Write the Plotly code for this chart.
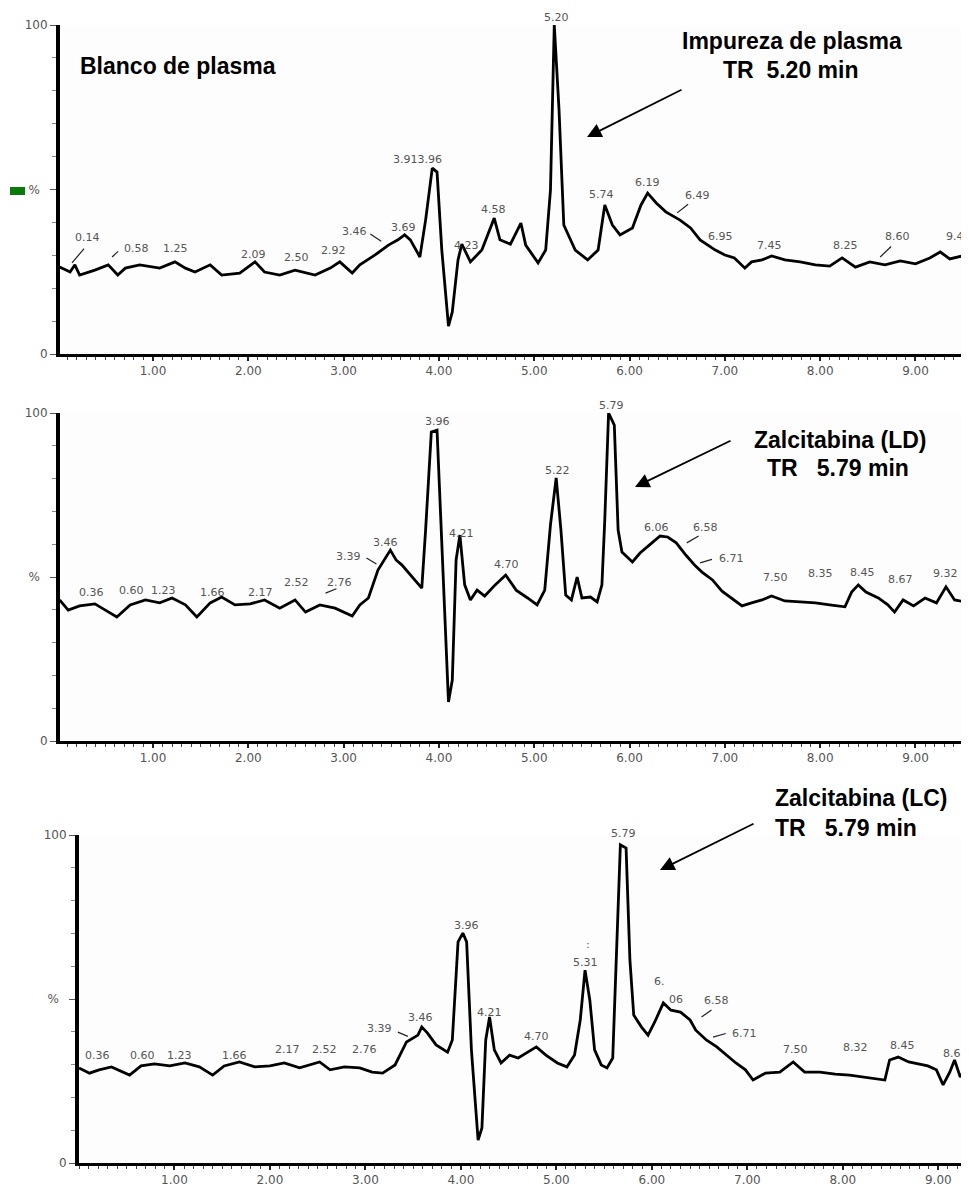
import plotly.graph_objects as go

# ---------------- data (time in min, relative intensity in %) ----------------
t_blank = [0.02, 0.13, 0.18, 0.23, 0.39, 0.53, 0.63, 0.71, 0.86, 1.07, 1.23, 1.34, 1.44, 1.60, 1.72,
           1.91, 2.07, 2.17, 2.33, 2.49, 2.70, 2.86, 2.96, 3.09, 3.17, 3.33, 3.47, 3.57, 3.64, 3.70,
           3.80, 3.86, 3.93, 3.98, 4.03, 4.10, 4.14, 4.20, 4.24, 4.33, 4.45, 4.58, 4.64, 4.75, 4.86,
           4.91, 5.04, 5.12, 5.17, 5.21, 5.26, 5.31, 5.43, 5.56, 5.67, 5.74, 5.82, 5.90, 6.03, 6.12,
           6.19, 6.28, 6.38, 6.53, 6.64, 6.74, 6.90, 7.00, 7.10, 7.21, 7.28, 7.39, 7.49, 7.63, 7.79,
           7.95, 8.10, 8.23, 8.37, 8.52, 8.68, 8.84, 9.00, 9.15, 9.26, 9.36, 9.53]
i_blank = [26.4, 24.9, 27.1, 24.0, 25.5, 27.1, 24.0, 26.1, 27.1, 26.1, 28.0, 26.1, 24.9, 27.1, 24.0,
           24.6, 28.0, 24.9, 24.0, 25.5, 24.0, 26.1, 28.0, 24.6, 27.1, 30.1, 33.1, 34.7, 36.2, 34.7,
           29.5, 40.7, 56.5, 55.3, 31.6, 8.5, 12.8, 28.6, 33.4, 28.0, 31.6, 41.3, 34.7, 33.4, 39.8,
           33.1, 27.7, 31.6, 49.8, 100.0, 74.2, 39.2, 31.6, 28.6, 31.6, 45.3, 39.2, 36.2, 38.3, 45.3,
           48.9, 45.9, 43.2, 40.7, 38.3, 34.7, 31.6, 30.1, 29.2, 26.1, 28.0, 28.6, 29.8, 28.6, 28.0,
           27.1, 26.7, 29.2, 26.4, 28.0, 27.1, 28.3, 27.4, 29.2, 31.0, 28.9, 30.1]

t_ld = [0.02, 0.11, 0.23, 0.39, 0.50, 0.62, 0.76, 0.92, 1.07, 1.20, 1.34, 1.46, 1.60, 1.72, 1.86,
        2.02, 2.17, 2.33, 2.49, 2.60, 2.75, 2.91, 3.09, 3.17, 3.26, 3.36, 3.49, 3.55, 3.61, 3.70,
        3.82, 3.86, 3.92, 3.98, 4.03, 4.10, 4.14, 4.18, 4.22, 4.27, 4.33, 4.40, 4.48, 4.59, 4.70,
        4.81, 4.93, 5.03, 5.11, 5.17, 5.23, 5.28, 5.33, 5.39, 5.45, 5.50, 5.59, 5.66, 5.71, 5.74,
        5.78, 5.84, 5.88, 5.92, 6.03, 6.11, 6.21, 6.32, 6.40, 6.49, 6.59, 6.69, 6.76, 6.87, 6.97,
        7.07, 7.18, 7.28, 7.39, 7.49, 7.63, 7.79, 7.95, 8.10, 8.26, 8.33, 8.40, 8.48, 8.61, 8.71,
        8.78, 8.87, 8.98, 9.10, 9.22, 9.32, 9.41, 9.53]
i_ld = [43.0, 39.9, 41.2, 41.8, 39.9, 37.8, 41.5, 43.0, 42.1, 43.6, 41.5, 37.8, 42.1, 43.9, 41.5,
        41.8, 43.0, 40.5, 43.0, 39.3, 41.5, 40.5, 38.1, 41.5, 43.6, 52.1, 58.2, 55.2, 53.7, 50.6,
        46.6, 64.3, 94.2, 94.8, 61.3, 11.9, 18.6, 55.2, 62.8, 47.6, 43.0, 46.0, 44.2, 47.6, 50.6,
        46.0, 43.6, 41.5, 46.0, 65.9, 80.2, 64.3, 44.5, 43.0, 50.0, 43.6, 43.9, 42.4, 47.6, 67.4,
        100.0, 96.3, 64.3, 57.6, 54.6, 57.3, 59.8, 62.5, 62.2, 60.4, 56.7, 53.4, 51.5, 49.1, 45.7,
        43.6, 41.2, 42.1, 43.0, 44.2, 42.7, 42.4, 42.1, 41.5, 40.9, 45.4, 47.6, 45.4, 43.6, 41.5,
        39.3, 43.0, 41.2, 43.6, 42.1, 47.0, 43.0, 42.4]

t_lc = [0.00, 0.11, 0.21, 0.34, 0.53, 0.65, 0.79, 0.95, 1.11, 1.26, 1.40, 1.52, 1.68, 1.84, 2.00,
        2.15, 2.31, 2.42, 2.52, 2.63, 2.78, 2.94, 3.07, 3.18, 3.31, 3.43, 3.55, 3.59, 3.65, 3.74,
        3.86, 3.91, 3.97, 4.02, 4.06, 4.11, 4.18, 4.22, 4.26, 4.30, 4.35, 4.42, 4.51, 4.60, 4.70,
        4.79, 4.89, 5.01, 5.11, 5.19, 5.25, 5.30, 5.35, 5.40, 5.47, 5.53, 5.59, 5.63, 5.67, 5.73,
        5.77, 5.81, 5.89, 5.96, 6.03, 6.12, 6.20, 6.30, 6.40, 6.46, 6.57, 6.68, 6.78, 6.88, 6.98,
        7.06, 7.19, 7.34, 7.48, 7.60, 7.76, 7.92, 8.07, 8.23, 8.44, 8.49, 8.58, 8.69, 8.79, 8.89,
        8.98, 9.05, 9.12, 9.17, 9.23, 9.29]
i_lc = [29.0, 27.4, 28.4, 29.3, 26.8, 29.6, 30.2, 29.6, 30.5, 29.3, 26.8, 29.6, 30.8, 29.3, 29.6,
        30.5, 29.0, 29.9, 30.8, 28.4, 29.3, 29.0, 27.7, 27.4, 29.9, 36.9, 39.0, 41.5, 39.6, 36.0,
        33.8, 37.5, 67.4, 70.1, 67.4, 34.5, 7.0, 10.7, 37.5, 44.5, 34.5, 30.5, 32.9, 32.0, 33.8,
        35.4, 32.9, 30.5, 29.3, 32.9, 43.6, 58.8, 49.7, 34.5, 29.9, 29.0, 32.0, 64.9, 97.0, 96.0,
        61.9, 45.1, 41.5, 39.0, 43.0, 48.8, 46.6, 46.0, 43.6, 40.5, 37.5, 35.4, 32.9, 30.5, 28.4,
        25.3, 27.4, 27.7, 30.8, 27.7, 27.7, 27.1, 26.8, 26.2, 25.3, 31.4, 32.3, 30.8, 30.2, 29.6,
        28.4, 23.8, 27.7, 31.4, 26.2, 29.0]

# peak labels: text, time, height (%)
lab_blank_txt = ["0.14", "0.58", "1.25", "2.09", "2.50", "2.92", "3.46", "3.69", "3.913.96", "4.23",
                 "4.58", "5.20", "5.74", "6.19", "6.49", "6.95", "7.45", "8.25", "8.60", "9.45"]
lab_blank_t = [0.31, 0.83, 1.24, 2.05, 2.51, 2.89, 3.11, 3.63, 3.78, 4.29,
               4.57, 5.23, 5.71, 6.19, 6.71, 6.95, 7.47, 8.27, 8.81, 9.45]
lab_blank_i = [35.3, 32.2, 32.2, 30.1, 29.2, 31.6, 37.1, 38.3, 59.0, 33.1,
               43.8, 102.4, 48.6, 52.0, 48.3, 35.6, 33.1, 33.1, 35.6, 35.6]

lab_ld_txt = ["0.36", "0.60", "1.23", "1.66", "2.17", "2.52", "2.76", "3.39", "3.46", "3.96", "4.21",
              "4.70", "5.22", "5.79", "6.06", "6.58", "6.71", "7.50", "8.35", "8.45", "8.67", "9.32"]
lab_ld_t = [0.35, 0.77, 1.11, 1.62, 2.13, 2.51, 2.96, 3.05, 3.44, 3.98, 4.24,
            4.71, 5.24, 5.81, 6.28, 6.80, 7.07, 7.53, 8.00, 8.44, 8.84, 9.31]
lab_ld_i = [45.4, 46.0, 46.0, 45.4, 45.4, 48.2, 48.2, 56.1, 60.4, 97.3, 63.4,
            53.7, 82.6, 102.4, 65.2, 65.2, 55.5, 50.0, 51.2, 51.5, 49.1, 51.2]

lab_lc_txt = ["0.36", "0.60", "1.23", "1.66", "2.17", "2.52", "2.76", "3.39", "3.46", "3.96", "4.21",
              "4.70", "5.31", ":", "5.79", "6.", "06", "6.58", "6.71", "7.50", "8.32", "8.45", "8.67"]
lab_lc_t = [0.19, 0.66, 1.05, 1.63, 2.18, 2.57, 2.99, 3.15, 3.58, 4.06, 4.30,
            4.79, 5.30, 5.33, 5.70, 6.08, 6.25, 6.68, 6.97, 7.50, 8.13, 8.63, 9.18]
lab_lc_i = [32.9, 32.9, 32.9, 32.9, 34.5, 34.5, 34.5, 40.9, 44.5, 72.3, 46.0,
            38.7, 61.0, 66.5, 100.6, 55.2, 49.7, 49.4, 39.6, 34.5, 35.1, 35.7, 33.5]

# leader lines (t0, i0, t1, i1)
lead_blank = [(0.15, 27.7, 0.29, 32.5), (0.57, 29.5, 0.65, 31.6), (3.28, 36.5, 3.41, 34.0),
              (6.50, 42.9, 6.63, 45.9), (8.63, 29.5, 8.76, 33.1)]
lead_ld = [(3.24, 55.8, 3.36, 53.7), (6.60, 60.4, 6.74, 62.8), (6.74, 54.3, 6.88, 55.5),
           (2.81, 45.1, 2.94, 46.6)]
lead_lc = [(3.34, 39.9, 3.46, 38.4), (6.52, 44.5, 6.64, 47.0), (6.64, 38.4, 6.79, 39.6)]

x_ticks = [1, 2, 3, 4, 5, 6, 7, 8, 9]
x_ticktext = ["1.00", "2.00", "3.00", "4.00", "5.00", "6.00", "7.00", "8.00", "9.00"]
y_ticks = [0, 50, 100]
y_ticktext = ["0", "%\u00a0\u00a0", "100"]

# ---------------- layout geometry ----------------
W, H = 969, 1186
OFF = 8  # page offset of the figure (body margin)

def px_x(p):
    return (p - OFF) / W

def px_y(p):
    return 1 - (p - OFF) / H

panels = [
    dict(t=t_blank, i=i_blank, xr=[0.024, 9.53], xd=[60, 966], yd=[354, 25],
         lt=lab_blank_txt, lx=lab_blank_t, ly=lab_blank_i, lead=lead_blank),
    dict(t=t_ld, i=i_ld, xr=[0.024, 9.53], xd=[60, 966], yd=[741, 413],
         lt=lab_ld_txt, lx=lab_ld_t, ly=lab_ld_i, lead=lead_ld),
    dict(t=t_lc, i=i_lc, xr=[0.0, 9.29], xd=[79, 966], yd=[1163, 835],
         lt=lab_lc_txt, lx=lab_lc_t, ly=lab_lc_i, lead=lead_lc),
]

fig = go.Figure()
annotations = []
LABEL_FONT = dict(family="DejaVu Sans", size=11, color="#555555")

for k, p in enumerate(panels):
    n = "" if k == 0 else str(k + 1)
    xa, ya = "x" + n, "y" + n
    fig.add_trace(go.Scatter(x=p["t"], y=p["i"], mode="lines", xaxis=xa, yaxis=ya,
                             line=dict(color="black", width=2.8), showlegend=False,
                             hoverinfo="skip"))
    fig.update_layout(**{
        "xaxis" + n: dict(domain=[px_x(p["xd"][0]), px_x(p["xd"][1])], range=p["xr"], anchor=ya,
                          automargin=False,
                          showgrid=False, zeroline=False, showline=True, linecolor="black",
                          linewidth=3, tickvals=x_ticks, ticktext=x_ticktext, ticks="outside",
                          ticklen=4, tickwidth=2, tickcolor="#222",
                          minor=dict(dtick=0.1, ticks="outside", ticklen=3, tickwidth=1,
                                     tickcolor="#444"),
                          tickfont=dict(family="DejaVu Sans", size=12, color="#555555")),
        "yaxis" + n: dict(domain=[px_y(p["yd"][0]), px_y(p["yd"][1])], range=[0, 100], anchor=xa,
                          automargin=False,
                          showgrid=False, zeroline=False, showline=True, linecolor="black",
                          linewidth=4, tickvals=y_ticks, ticktext=y_ticktext, ticks="outside",
                          ticklen=6, tickwidth=1, tickcolor="#555",
                          minor=dict(dtick=10, ticks="outside", ticklen=4, tickwidth=1,
                                     tickcolor="#888"),
                          tickfont=dict(family="DejaVu Sans", size=12, color="#555555")),
    })
    ppu = (p["yd"][0] - p["yd"][1]) / 100.0
    for txt, lx, ly in zip(p["lt"], p["lx"], p["ly"]):
        yy = min(ly, 100.0)
        annotations.append(dict(x=lx, y=yy, xref=xa, yref=ya, text=txt, showarrow=False,
                                yshift=(ly - yy) * ppu, font=LABEL_FONT))
    for (a0, b0, a1, b1) in p["lead"]:
        annotations.append(dict(x=a0, y=b0, ax=a1, ay=b1, xref=xa, yref=ya, axref=xa, ayref=ya,
                                text="", showarrow=True, arrowhead=0, arrowwidth=1.2,
                                arrowcolor="#222"))

BIG = dict(family="Liberation Sans, Arial", size=23, color="black")

def big_text(text, x, y, xanchor="center"):
    return dict(x=px_x(x), y=px_y(y), xref="paper", yref="paper", text="<b>" + text + "</b>",
                showarrow=False, xanchor=xanchor, yanchor="middle", font=BIG)

nb = "\u00a0"
annotations += [
    big_text("Blanco de plasma", 78, 66, "left"),
    big_text("Impureza de plasma", 792, 41),
    big_text("TR" + nb * 2 + "5.20 min", 790, 70),
    big_text("Zalcitabina (LD)", 840, 440),
    big_text("TR" + nb * 3 + "5.79 min", 838, 468),
    big_text("Zalcitabina (LC)", 773, 798, "left"),
    big_text("TR" + nb * 3 + "5.79 min", 773, 828, "left"),
]

def arrow(tipx, tipy, tailx, taily):
    return dict(x=px_x(tipx), y=px_y(tipy), xref="paper", yref="paper", ax=tailx - tipx,
                ay=taily - tipy, text="", showarrow=True, arrowhead=2, arrowsize=1.6,
                arrowwidth=1.8, arrowcolor="black")

annotations += [arrow(587, 137, 683, 89), arrow(635, 487, 732, 440), arrow(660, 870, 755, 823)]

fig.update_layout(
    template="none",
    width=W, height=H, margin=dict(l=0, r=0, t=0, b=0, autoexpand=False),
    paper_bgcolor="white", plot_bgcolor="#fdfdfd",
    annotations=annotations,
    shapes=[dict(type="rect", xref="paper", yref="paper", x0=px_x(10), x1=px_x(25),
                 y0=px_y(195), y1=px_y(187), fillcolor="#0a7a0a", line=dict(width=0))],
)

fig.write_html("out.html")
